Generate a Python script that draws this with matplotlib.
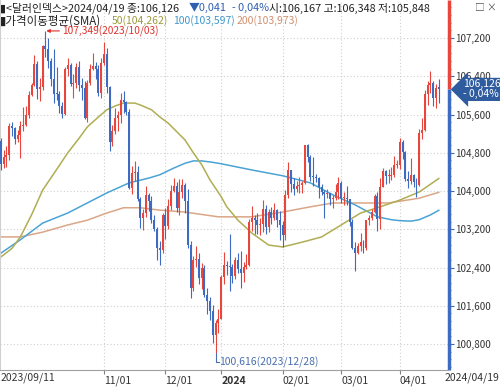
import pandas as pd
import matplotlib.pyplot as plt
from matplotlib.ticker import MultipleLocator, FuncFormatter
from matplotlib.transforms import blended_transform_factory

plt.rcParams['font.family'] = ['Noto Sans CJK KR', 'DejaVu Sans']

# daily OHLC, 2023/09/11 .. 2024/04/19
opens = [
    105.05, 104.57, 104.71, 104.75, 105.36, 105.32, 105.09, 105.18, 105.35, 105.39, 105.58, 106.00, 106.22, 106.66, 106.14,
    106.17, 107.03, 106.97, 106.73, 106.34, 106.04, 106.03, 105.78, 105.62, 106.56, 106.64, 106.24, 106.26, 106.59, 106.22,
    106.16, 105.53, 106.26, 106.56, 106.61, 106.56, 106.06,
    106.68, 106.87, 106.18, 105.02, 105.25, 105.53, 105.58, 105.90, 105.86, 105.65, 104.07, 104.37, 104.39, 103.83, 103.44,
    103.53, 103.91, 103.79, 103.40, 103.21, 102.80, 102.77,
    103.50, 103.27, 103.68, 104.00, 104.11, 103.64, 103.99, 104.12, 103.80, 102.87, 101.98, 102.55, 102.58, 102.18, 102.40,
    101.83, 101.70, 101.48, 100.99, 101.23,
    101.33, 102.20, 102.46, 102.44, 102.42, 102.23, 102.55, 102.37, 102.29, 102.41, 102.45, 103.35, 103.43, 103.39, 103.29,
    103.32, 103.62, 103.24, 103.56, 103.43, 103.61, 103.40,
    103.28, 103.07, 103.92, 104.43, 104.14, 104.05, 104.11, 104.13, 104.16, 104.96, 104.71, 104.30, 104.29, 104.28, 104.08,
    103.97, 103.94, 103.95, 103.83, 103.85, 103.99,
    104.16, 103.86, 103.86, 103.83, 103.35, 102.80, 102.71, 102.86, 102.94, 102.80, 103.39, 103.43, 103.56, 103.90, 103.41,
    104.09, 104.42, 104.31, 104.32, 104.34, 104.55,
    104.55, 105.02, 104.82, 104.25, 104.22, 104.33, 104.19, 104.13, 105.21, 105.27, 106.04, 106.21, 106.26, 105.94, 106.167,
]
highs = [
    105.10, 104.85, 104.95, 105.43, 105.45, 105.33, 105.28, 105.47, 105.76, 105.78, 106.09, 106.27, 106.84, 106.72, 106.37,
    107.06, 107.349, 107.20, 106.79, 106.98, 106.60, 106.10, 105.86, 106.60, 106.78, 106.68, 106.45, 106.67, 106.72, 106.37,
    106.30, 106.33, 106.65, 106.89, 106.70, 106.63, 106.79,
    107.11, 107.00, 106.20, 105.38, 105.74, 105.67, 106.05, 106.09, 105.89, 105.71, 104.52, 104.62, 104.52, 103.87, 103.63,
    104.10, 103.96, 103.89, 103.50, 103.24, 102.95, 103.55,
    103.64, 103.83, 104.12, 104.27, 104.19, 104.26, 104.26, 104.17, 104.05, 102.95, 102.65, 102.85, 102.70, 102.50, 102.45,
    101.97, 101.79, 101.61, 101.30, 101.53,
    102.25, 102.73, 102.54, 103.11, 102.48, 102.63, 102.71, 102.75, 102.51, 102.69, 103.41, 103.69, 103.50, 103.55, 103.44,
    103.82, 103.70, 103.62, 103.66, 103.75, 103.62, 103.58,
    103.37, 104.02, 104.60, 104.44, 104.27, 104.20, 104.29, 104.20, 104.97, 104.98, 104.76, 104.72, 104.35, 104.29, 104.15,
    104.03, 104.05, 103.96, 103.92, 104.14, 104.29,
    104.20, 103.97, 104.10, 103.84, 103.42, 102.94, 102.92, 103.13, 102.98, 103.40, 103.49, 103.62, 103.94, 103.99, 104.28,
    104.49, 104.45, 104.46, 104.50, 104.73, 104.64,
    105.10, 105.07, 104.84, 104.42, 104.69, 104.35, 104.27, 105.30, 105.53, 106.11, 106.31, 106.52, 106.30, 106.24, 106.348,
]
lows = [
    104.43, 104.49, 104.51, 104.65, 105.15, 104.98, 105.02, 104.69, 105.25, 105.35, 105.52, 105.99, 106.19, 105.93, 105.88,
    106.11, 106.81, 106.57, 106.19, 105.85, 105.91, 105.63, 105.52, 105.60, 106.40, 106.20, 105.95, 106.15, 106.10, 105.90,
    105.50, 105.45, 106.22, 106.53, 106.35, 105.99, 105.95,
    106.64, 106.05, 104.84, 104.95, 105.20, 105.26, 105.43, 105.64, 105.60, 104.04, 103.94, 104.20, 103.79, 103.23, 103.18,
    103.46, 103.59, 103.33, 103.17, 102.55, 102.46, 102.70,
    103.00, 103.20, 103.60, 103.99, 103.56, 103.50, 103.85, 103.55, 102.80, 101.77, 101.90, 102.42, 102.05, 101.95, 101.79,
    101.42, 101.30, 100.82, 100.616, 101.03,
    101.33, 102.05, 102.24, 101.91, 102.07, 102.17, 102.28, 101.98, 102.10, 102.36, 102.44, 103.17, 103.10, 103.11, 103.07,
    103.15, 103.10, 103.15, 103.30, 103.40, 103.25, 102.98,
    102.83, 102.97, 103.85, 103.98, 103.92, 103.97, 103.96, 103.96, 104.14, 104.61, 104.22, 104.10, 104.18, 103.85, 103.92,
    103.44, 103.85, 103.71, 103.64, 103.81, 103.83,
    103.75, 103.71, 103.71, 103.26, 102.78, 102.33, 102.69, 102.75, 102.71, 102.77, 103.28, 103.39, 103.54, 103.16, 103.20,
    104.08, 104.15, 104.17, 104.23, 104.29, 104.49,
    104.46, 104.68, 104.22, 104.07, 104.14, 104.08, 103.88, 104.10, 105.08, 105.25, 105.79, 106.05, 105.77, 105.73, 105.848,
]
closes = [
    104.57, 104.71, 104.75, 105.36, 105.32, 105.09, 105.18, 105.35, 105.39, 105.58, 106.00, 106.22, 106.66, 106.14, 106.17,
    107.03, 106.97, 106.73, 106.34, 106.04, 106.03, 105.78, 105.62, 106.56, 106.64, 106.24, 106.26, 106.59, 106.22, 106.16,
    105.53, 106.26, 106.56, 106.61, 106.56, 106.06, 106.68,
    106.87, 106.18, 105.02, 105.25, 105.53, 105.58, 105.90, 105.86, 105.65, 104.07, 104.37, 104.39, 103.83, 103.44, 103.53,
    103.91, 103.79, 103.40, 103.21, 102.80, 102.77, 103.50,
    103.27, 103.68, 104.00, 104.11, 103.64, 103.99, 104.12, 103.80, 102.87, 101.98, 102.55, 102.58, 102.18, 102.40, 101.83,
    101.70, 101.48, 100.99, 101.23, 101.33,
    102.20, 102.46, 102.44, 102.42, 102.23, 102.55, 102.37, 102.29, 102.41, 102.45, 103.35, 103.43, 103.39, 103.29, 103.32,
    103.62, 103.24, 103.56, 103.43, 103.61, 103.40, 103.28,
    103.07, 103.92, 104.43, 104.14, 104.05, 104.11, 104.13, 104.16, 104.96, 104.71, 104.30, 104.29, 104.28, 104.08, 103.97,
    103.94, 103.95, 103.83, 103.85, 103.99, 104.16,
    103.86, 103.86, 103.83, 103.35, 102.80, 102.71, 102.86, 102.94, 102.80, 103.39, 103.43, 103.56, 103.90, 103.41, 104.09,
    104.42, 104.31, 104.32, 104.34, 104.55, 104.55,
    105.02, 104.82, 104.25, 104.22, 104.33, 104.19, 104.13, 105.21, 105.27, 106.04, 106.21, 106.26, 105.94, 106.15, 106.126,
]

# moving averages (day index, value)
sma50_idx = [0, 4, 7, 11, 15, 20, 24, 28, 31, 35, 38, 41, 44, 48, 50, 54, 57, 60, 66, 69, 72, 75, 79, 81,
             85, 90, 96, 101, 108, 115, 122, 129, 136, 143, 150, 157]
sma50_val = [102.62, 102.80, 103.04, 103.50, 104.02, 104.45, 104.80, 105.10, 105.34, 105.55, 105.70, 105.78,
             105.84, 105.84, 105.80, 105.70, 105.55, 105.42, 105.07, 104.80, 104.55, 104.23, 103.88, 103.67,
             103.39, 103.12, 102.87, 102.83, 102.93, 103.04, 103.29, 103.54, 103.67, 103.81, 103.98, 104.262]
sma100_idx = [0, 7, 15, 24, 31, 38, 46, 53, 57, 62, 66, 69, 72, 76, 79, 90, 101, 111, 119, 127, 135, 140,
              143, 147, 150, 154, 157]
sma100_val = [102.70, 102.98, 103.33, 103.54, 103.75, 103.96, 104.17, 104.27, 104.34, 104.48, 104.58, 104.63,
              104.63, 104.60, 104.57, 104.44, 104.32, 104.17, 103.92, 103.71, 103.46, 103.40, 103.38, 103.37,
              103.40, 103.50, 103.597]
sma200_idx = [0, 7, 15, 24, 31, 38, 44, 50, 57, 66, 78, 90, 101, 111, 119, 132, 139, 150, 157]
sma200_val = [103.04, 103.04, 103.14, 103.29, 103.39, 103.54, 103.65, 103.65, 103.60, 103.56, 103.46, 103.46,
              103.56, 103.67, 103.75, 103.75, 103.75, 103.85, 103.973]

month_labels = ['11/01', '12/01', '2024', '02/01', '03/01', '04/01']
y_ticks = [100.8, 101.6, 102.4, 103.2, 104.0, 104.8, 105.6, 106.4, 107.2]
last_price = 106.126

UP = '#e8463c'
DOWN = '#3d6bc2'
C50 = '#b0ad52'
C100 = '#4aa3d4'
C200 = '#dba687'


def kfmt(v, pos=None):
    return f"{v:,.3f}".replace('.', ',')


dates = pd.bdate_range('2023-09-11', '2024-04-19')
dates = dates[~dates.isin(pd.to_datetime(['2023-12-25', '2024-01-01']))]
month_idx = [i for i in range(1, len(dates)) if dates[i].month != dates[i - 1].month][1:]

fig = plt.figure(figsize=(5, 3.88), dpi=100)
ax = fig.add_axes([0, 18 / 388, 448 / 500, 370 / 388])
ax.set_xlim(-0.3, 160.3)
ax.set_ylim(100.256, 107.996)

# grid
for y in y_ticks:
    ax.axhline(y, color='#cfcfcf', lw=0.8, ls=(0, (1, 2)), zorder=0)
for i in month_idx:
    ax.axvline(i, color='#cfcfcf', lw=0.8, ls=(0, (1, 2)), zorder=0)

# moving averages
ax.plot(sma200_idx, sma200_val, color=C200, lw=1.1, zorder=2)
ax.plot(sma100_idx, sma100_val, color=C100, lw=1.1, zorder=2)
ax.plot(sma50_idx, sma50_val, color=C50, lw=1.1, zorder=2)

# candles
xs = list(range(len(closes)))
cols = [UP if c >= o else DOWN for o, c in zip(opens, closes)]
ax.vlines(xs, lows, highs, colors=cols, lw=0.8, zorder=3)
ax.bar(xs, [max(abs(c - o), 0.02) for o, c in zip(opens, closes)],
       bottom=[min(o, c) for o, c in zip(opens, closes)], width=0.7, color=cols, zorder=3)

# high / low marks
hi = highs.index(max(highs))
lo = lows.index(min(lows))
ax.annotate(f"{kfmt(highs[hi])}({dates[hi]:%Y/%m/%d})", xy=(hi + 0.3, highs[hi]), xytext=(hi + 6, highs[hi]),
            color='#e0302a', fontsize=7.3, va='center',
            arrowprops=dict(arrowstyle='-|>', color='#e0302a', lw=0.8, mutation_scale=5, shrinkA=0, shrinkB=0))
ax.plot([lo, lo, lo + 1.2], [lows[lo], lows[lo] - 0.19, lows[lo] - 0.19], color='#4a6fb0', lw=0.8, zorder=4)
ax.text(lo + 1.3, lows[lo] - 0.19, f"{kfmt(lows[lo])}({dates[lo]:%Y/%m/%d})", color='#4a6fb0',
        fontsize=7.5, va='center')

# axes styling
for s in ['top', 'right']:
    ax.spines[s].set_visible(False)
ax.spines['left'].set_color('#d0d0d0')
ax.spines['bottom'].set_color('#a0a0a0')

ax.yaxis.tick_right()
ax.set_yticks(y_ticks)
ax.yaxis.set_major_formatter(FuncFormatter(kfmt))
ax.yaxis.set_minor_locator(MultipleLocator(0.16))
ax.tick_params(axis='y', which='major', length=4, width=0.8, color=DOWN, labelsize=7, labelcolor='#333333', pad=1)
ax.tick_params(axis='y', which='minor', length=2, width=0.6, color=DOWN)
for t in ax.yaxis.get_major_ticks() + ax.yaxis.get_minor_ticks():
    if t.get_loc() > last_price:
        t.tick2line.set_color(UP)

ax.set_xticks(month_idx)
ax.set_xticklabels(month_labels)
ax.tick_params(axis='x', length=3, width=0.8, color='#808080', labelsize=7.5, labelcolor='#333333', pad=1)
for lab in ax.get_xticklabels():
    lab.set_horizontalalignment('left')
    if lab.get_text() == '2024':
        lab.set_fontweight('bold')

tr = blended_transform_factory(ax.transAxes, ax.transData)
ax.plot([1.003, 1.003], [last_price, 107.996], transform=tr, color=UP, lw=2.5, clip_on=False, solid_capstyle='butt')
ax.plot([1.003, 1.003], [100.256, last_price], transform=tr, color=DOWN, lw=2.5, clip_on=False, solid_capstyle='butt')
ax.text(1.033, last_price, "106,126\n- 0,04%", transform=tr, ha='left', va='center', color='white',
        fontsize=7.5, linespacing=1.0,
        bbox=dict(boxstyle='larrow,pad=0.15', fc='#2f5c9e', ec='none'), zorder=6, clip_on=False)

# x-axis end labels
fig.text(1 / 500, 1 - 378 / 388, '2023/09/11', fontsize=7.5, color='#333333', va='center')
fig.text(445 / 500, 1 - 378 / 388, '2024/04/19', fontsize=7.5, color='#333333', va='center')


# header
def head(x, y, s, c, size=7.8):
    fig.text(x / 500, 1 - y / 388, s, fontsize=size, color=c, va='center')


head(0, 8, '▮<달러인덱스>2024/04/19 종:106,126', '#222222')
head(189, 8, '▼0,041', '#2f5fb3')
head(232, 8, '- 0,04%', '#2f5fb3')
head(269, 8, '시:106,167 고:106,348 저:105,848', '#222222')
head(0, 21, '▮가격이동평균(SMA)', '#222222', 8.3)
head(112, 21, '50(104,262)', '#9c9a3c', 7.5)
head(173, 21, '100(103,597)', '#3f97cc', 7.5)
head(237, 21, '200(103,973)', '#d0906e', 7.5)
fig.text(480 / 500, 1 - 8 / 388, '□', fontsize=7, color='#555555', va='center', ha='center')
fig.text(491 / 500, 1 - 8 / 388, '×', fontsize=7, color='#555555', va='center', ha='center')

fig.savefig('out.png', dpi=100)
